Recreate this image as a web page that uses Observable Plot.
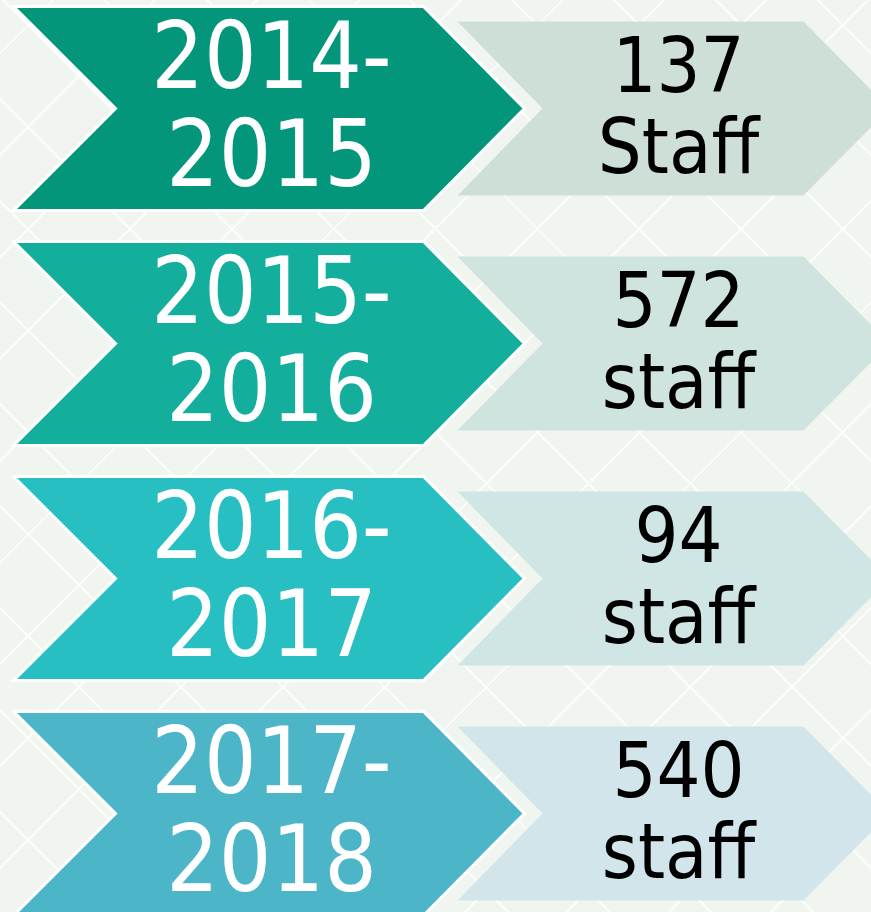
<!DOCTYPE html>
<html>
<head>
<meta charset="utf-8">
<script src="https://cdn.jsdelivr.net/npm/d3@7"></script>
<script src="https://cdn.jsdelivr.net/npm/@observablehq/plot@0.6"></script>
<style>
  html, body { margin: 0; padding: 0; }
  body { width: 871px; height: 912px; overflow: hidden; background: #f0f6ef; }
  #chart {
    position: relative; width: 871px; height: 912px;
    background-color: #f0f6ef;
    background-image:
      repeating-linear-gradient(45deg, rgba(255,255,255,0) 0 70px, rgba(255,255,255,0.75) 70px 72px),
      repeating-linear-gradient(-45deg, rgba(255,255,255,0) 0 70px, rgba(255,255,255,0.75) 70px 72px);
  }
  #chart svg { display: block; background: transparent; }
</style>
</head>
<body>
<div id="chart"></div>
<script>
// ---- data ----
const periods = ["2014-\n2015", "2015-\n2016", "2016-\n2017", "2017-\n2018"];
const staffCounts = [137, 572, 94, 540];
const staffWords = ["Staff", "staff", "staff", "staff"];
const periodColors = ["#03967a", "#14ae9d", "#27bfc1", "#4cb5c7"];
const countColors = ["#cedfd8", "#cfe3df", "#d0e6e4", "#d2e5ea"];

// ---- layout (shape template) ----
const W = 871, H = 912, PITCH = 235, FIRST = 108;
const yDomain = [-FIRST / PITCH, (H - FIRST) / PITCH];
const big = {xl: 13, notch: 115, xr: 423, tip: 524, h: 102 / PITCH};
const small = {xl: 457, notch: 542, xr: 803, tip: 889, h: 87 / PITCH};

const rows = periods.map((p, i) => ({
  row: i,
  period: p,
  label: `${staffCounts[i]}\n${staffWords[i]}`,
  periodColor: periodColors[i],
  countColor: countColors[i]
}));

function chevron(s, r, color) {
  return [
    [s.xl, r - s.h], [s.xr, r - s.h], [s.tip, r], [s.xr, r + s.h],
    [s.xl, r + s.h], [s.notch, r], [s.xl, r - s.h]
  ].map(([x, y]) => ({x, y, row: r, color}));
}
const bigPts = rows.flatMap(d => chevron(big, d.row, d.periodColor));
const smallPts = rows.flatMap(d => chevron(small, d.row, d.countColor));

const chart = Plot.plot({
  width: W, height: H,
  margin: 0,
  x: {domain: [0, W], range: [0, W], axis: null},
  y: {domain: yDomain, range: [0, H], axis: null},
  color: {type: "identity"},
  style: {background: "transparent"},
  marks: [
    Plot.line(smallPts, {x: "x", y: "y", z: "row", fill: "color", stroke: "none", curve: "linear"}),
    Plot.line(bigPts, {x: "x", y: "y", z: "row", fill: "color", stroke: "white", strokeWidth: 3, strokeLinejoin: "miter", strokeMiterlimit: 10, curve: "linear"}),
    Plot.text(rows, {
      x: () => 271, y: "row", text: "period", fill: "white",
      fontSize: 92, lineHeight: 1.065, dy: -3,
      fontFamily: "'DejaVu Sans Condensed', sans-serif"
    }),
    Plot.text(rows, {
      x: () => 678, y: "row", text: "label", fill: "black",
      fontSize: 77, lineHeight: 1.05, dy: -2,
      fontFamily: "'DejaVu Sans Condensed', sans-serif"
    })
  ]
});
document.getElementById("chart").appendChild(chart);
</script>
</body>
</html>
